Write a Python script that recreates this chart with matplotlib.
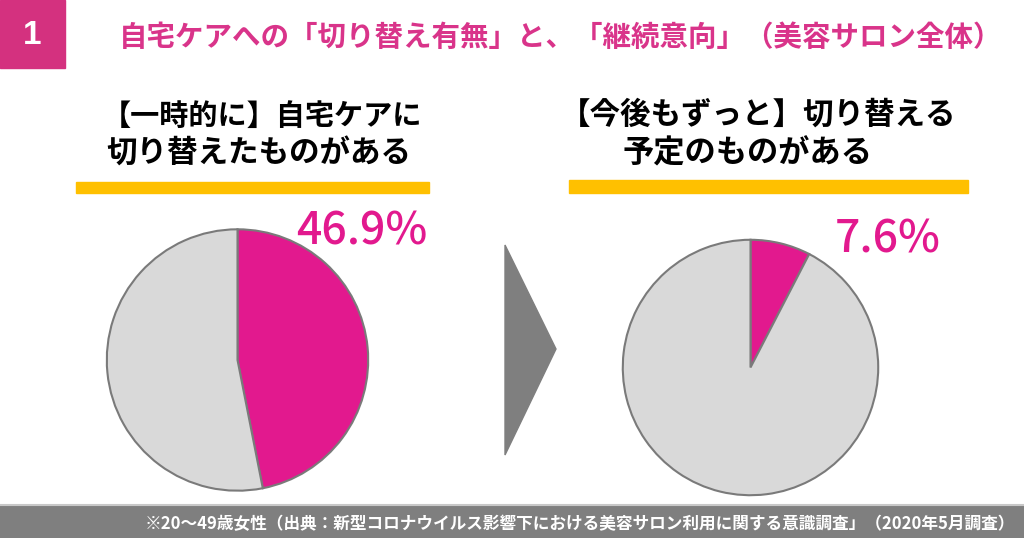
import matplotlib
matplotlib.use("Agg")
import matplotlib.pyplot as plt
from matplotlib.patches import Rectangle, Polygon

plt.rcParams['font.family'] = ['Noto Sans CJK JP', 'DejaVu Sans']

# ─── Dati ─────────────────────────────────────────────────────────────────────
TITLE      = "自宅ケアへの「切り替え有無」と、「継続意向」（美容サロン全体）"
LEFT_HEAD  = ["【一時的に】自宅ケアに", "切り替えたものがある"]
RIGHT_HEAD = ["【今後もずっと】切り替える", "予定のものがある"]
NOTE       = "※20～49歳女性（出典：新型コロナウイルス影響下における美容サロン利用に関する意識調査」（2020年5月調査）"

left_values  = [46.9, 53.1]   # 切り替えた / その他
right_values = [7.6, 92.4]    # 今後も切り替える / その他

MAGENTA = "#E2198E"
PINK    = "#D9348A"
GRAY    = "#D9D9D9"
EDGE    = "#7A7A7A"
YELLOW  = "#FFC000"

W, H = 1024, 538
fig = plt.figure(figsize=(W / 100, H / 100), dpi=100)


def px_axes(x0, y0, w, h):
    """axes da coordinate in pixel (origine in alto a sinistra)"""
    return fig.add_axes([x0 / W, 1 - (y0 + h) / H, w / W, h / H])


# sfondo / decorazioni
bg = px_axes(0, 0, W, H)
bg.set_xlim(0, W)
bg.set_ylim(H, 0)
bg.axis("off")

bg.add_patch(Rectangle((0, 0), 65, 68, color="#D4317F"))
bg.text(32, 35, "1", color="white", fontsize=24, fontweight="bold",
        ha="center", va="center", family=["Liberation Sans", "DejaVu Sans"])
bg.text(561, 38, TITLE, color=PINK, fontsize=20.5, fontweight="bold",
        ha="center", va="center")

bg.text(262, 116, LEFT_HEAD[0], fontsize=21, fontweight="bold", ha="center", va="center")
bg.text(259, 154, LEFT_HEAD[1], fontsize=22, fontweight="bold", ha="center", va="center")
bg.text(758, 115, RIGHT_HEAD[0], fontsize=22, fontweight="bold", ha="center", va="center")
bg.text(748, 153, RIGHT_HEAD[1], fontsize=22.5, fontweight="bold", ha="center", va="center")

bg.add_patch(Rectangle((76, 182), 353, 11, color=YELLOW))
bg.add_patch(Rectangle((569, 180), 399, 13, color=YELLOW))

# freccia
bg.add_patch(Polygon([(505, 245), (556, 349), (505, 455)], closed=True, color="#7F7F7F"))

# barra in basso
bg.add_patch(Rectangle((0, 505), W, 33, color="#7F7F7F"))
bg.plot([0, W], [504.5, 504.5], color="#C8C8C8", lw=1.5)
bg.text(1015, 524, NOTE, color="white", fontsize=12, fontweight="bold",
        ha="right", va="center")

# ─── Torte ────────────────────────────────────────────────────────────────────
for vals, (cx, cy, r), (lx, ly) in [
    (left_values,  (237.5, 360, 132), (362, 232)),
    (right_values, (750.5, 367.5, 129), (888, 240)),
]:
    ax = px_axes(cx - r, cy - r, 2 * r, 2 * r)
    ax.pie(vals, colors=[MAGENTA, GRAY], startangle=90, counterclock=False,
           wedgeprops=dict(edgecolor=EDGE, linewidth=1.5))
    ax.set_xlim(-1.01, 1.01)
    ax.set_ylim(-1.01, 1.01)
    bg.text(lx, ly, f"{vals[0]}%", color=MAGENTA, fontsize=32, fontweight="medium",
            ha="center", va="center", zorder=5)

fig.savefig("out.png", dpi=100)
